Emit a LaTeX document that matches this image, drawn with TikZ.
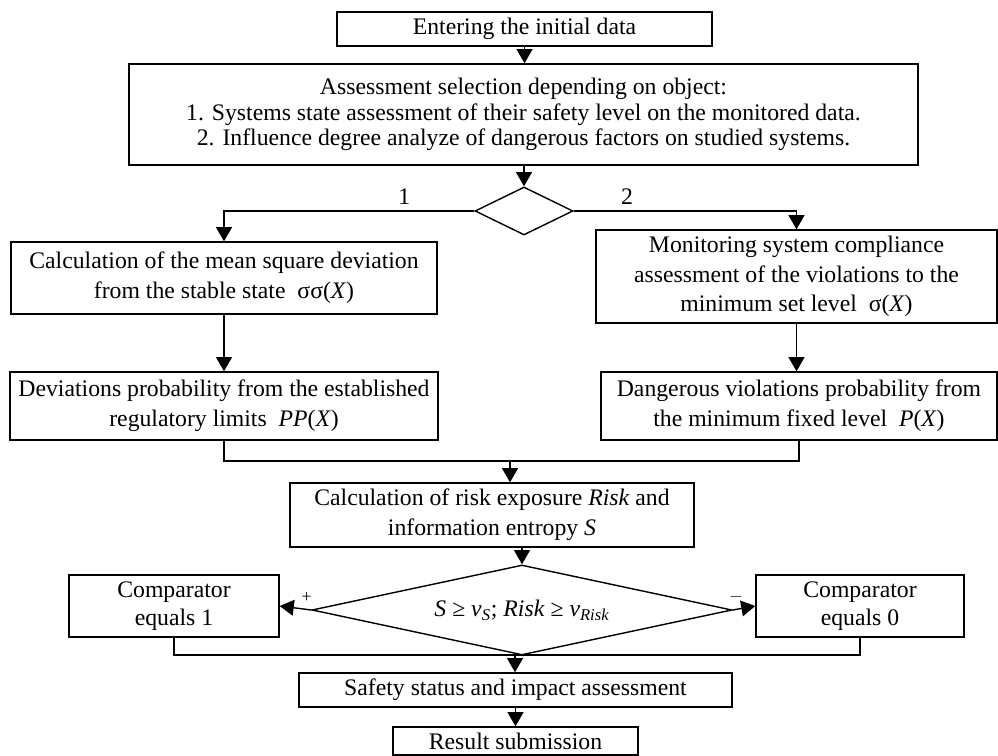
\documentclass[tikz,border=0pt]{standalone}
\usepackage{fontspec}
\usepackage{amsmath}
\setmainfont{Liberation Serif}
\usetikzlibrary{shapes.geometric, arrows.meta}

\begin{document}
\begin{tikzpicture}[x=0.02cm, y=-0.02cm, line width=0.8pt,
  blk/.style={draw, align=center, inner sep=2pt, font=\fontsize{13.5}{17}\selectfont},
  boxdim/.style 2 args={minimum width=#1*0.02cm, minimum height=#2*0.02cm},
  decide/.style={draw, diamond, inner sep=0pt, font=\fontsize{13.5}{17}\selectfont},
  arr/.style={-{Triangle[length=8pt, width=9pt]}}]
\useasboundingbox (0,0) rectangle (998,756);
\node[blk, boxdim={375}{34}] (entry) at (524.5,29) {Entering the initial data};
\node[blk, boxdim={789}{101}, font=\fontsize{13.5}{14.5}\selectfont] (select) at (523.5,114.5) {Assessment selection depending on object:\\ 1. Systems state assessment of their safety level on the monitored data.\\ 2. Influence degree analyze of dangerous factors on studied systems.};
\node[decide, boxdim={98}{48}] (choice) at (524,211) {};
\node[blk, boxdim={426}{72}] (calcL) at (224,278) {Calculation of the mean square deviation\\ from the stable state~ σσ(\textit{X})};
\node[blk, boxdim={401}{93}, font=\fontsize{13.5}{16.7}\selectfont] (monR) at (796.5,276.5) {Monitoring system compliance\\ assessment of the violations to the\\ minimum set level~ σ(\textit{X})};
\node[blk, boxdim={428}{68}] (devL) at (224,406) {Deviations probability from the established\\ regulatory limits~ \textit{PP}(\textit{X})};
\node[blk, boxdim={396}{68}] (dangR) at (799,406) {Dangerous violations probability from\\ the minimum fixed level~ \textit{P}(\textit{X})};
\node[blk, boxdim={404}{64}] (risk) at (492,515) {Calculation of risk exposure \textit{Risk} and\\ information entropy \textit{S}};
\node[decide, boxdim={420}{90}, aspect=4.67] (cmp) at (522,610) {\textit{S} ≥ \textit{v}$_{\textit{S}}$; \textit{Risk} ≥ \textit{v}$_{\textit{Risk}}$};
\node[blk, boxdim={210}{62}, font=\fontsize{13.5}{16}\selectfont] (one) at (174,606) {Comparator\\ equals 1};
\node[blk, boxdim={208}{62}, font=\fontsize{13.5}{16}\selectfont] (zero) at (860,606) {Comparator\\ equals 0};
\node[blk, boxdim={433}{34}] (status) at (515.5,690) {Safety status and impact assessment};
\node[blk, boxdim={245}{28}] (result) at (515.5,741) {Result submission};
\coordinate (m1) at (510,461);
\coordinate (m2) at (515,655);
\draw[arr] (entry.south) -- (entry.south |- select.north);
\draw[arr] (select.south -| choice.north) -- (choice.north);
\draw[arr] (choice.west) -| node[above, pos=0.14, font=\fontsize{13.5}{16}\selectfont] {1} (calcL.north);
\draw[arr] (choice.east) -| node[above, pos=0.12, font=\fontsize{13.5}{16}\selectfont] {2} (monR.north);
\draw[arr] (calcL.south) -- (devL.north);
\draw[arr] (monR.south) -- (monR.south |- dangR.north);
\draw (devL.south) |- (m1) -| (dangR.south);
\draw[arr] (m1) -- (m1 |- risk.north);
\draw[arr] (cmp.north |- risk.south) -- (cmp.north);
\draw[arr] (cmp.west) -- node[above, pos=0.15] {+} (one.east);
\draw[arr] (cmp.east) -- node[above, pos=0.15] {$-$} (zero.west);
\draw (one.south) |- (m2) -| (zero.south);
\draw[arr] (m2) -- (m2 |- status.north);
\draw[arr] (status.south -| result.north) -- (result.north);
\end{tikzpicture}
\end{document}
